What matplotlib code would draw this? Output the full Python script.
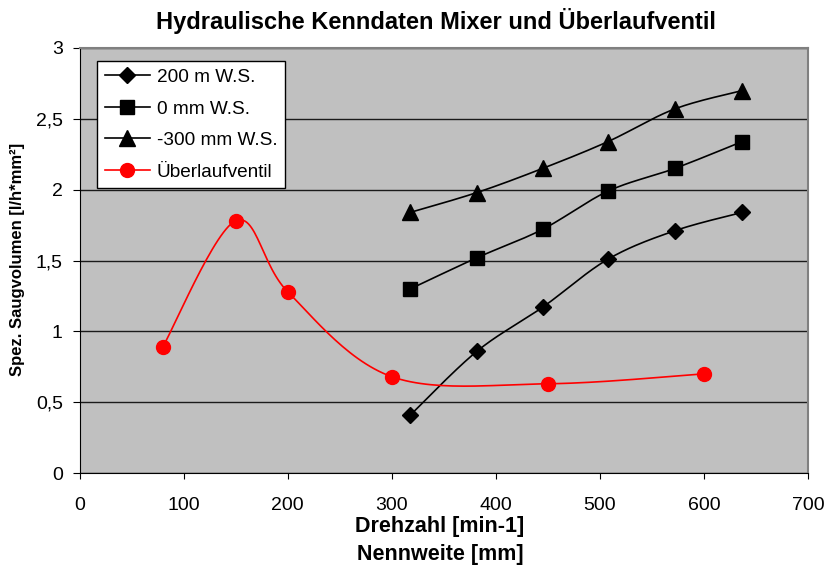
import numpy as np
import matplotlib
matplotlib.use("Agg")
import matplotlib.pyplot as plt
from matplotlib.ticker import FuncFormatter

plt.rcParams['font.family'] = ['Liberation Sans', 'DejaVu Sans']

# Data
x_nw = [318, 382, 445, 508, 572, 637]
y_200m = [0.41, 0.86, 1.17, 1.51, 1.71, 1.84]
y_0mm = [1.30, 1.52, 1.72, 1.99, 2.15, 2.34]
y_m300 = [1.84, 1.98, 2.15, 2.34, 2.57, 2.70]
x_ue = [80, 150, 200, 300, 450, 600]
y_ue = [0.89, 1.78, 1.28, 0.68, 0.63, 0.70]

labels = ["200 m W.S.", "0 mm W.S.", "-300 mm W.S.", "Überlaufventil"]
title = "Hydraulische Kenndaten Mixer und Überlaufventil"
xlabel = "Drehzahl [min-1]\nNennweite [mm]"
ylabel = "Spez. Saugvolumen [l/h*mm²]"


def smooth(xs, ys, n=30):
    """Bezier smoothing similar to Excel's smoothed lines."""
    P = np.column_stack([np.asarray(xs, float), np.asarray(ys, float)])
    out = []
    for i in range(len(P) - 1):
        p0 = P[i - 1] if i > 0 else P[i]
        p1 = P[i]
        p2 = P[i + 1]
        p3 = P[i + 2] if i + 2 < len(P) else P[i + 1]
        c1 = p1 + (p2 - p0) / 6.0
        c2 = p2 - (p3 - p1) / 6.0
        t = np.linspace(0, 1, n)[:, None]
        seg = ((1 - t) ** 3) * p1 + 3 * ((1 - t) ** 2) * t * c1 + 3 * (1 - t) * t ** 2 * c2 + t ** 3 * p2
        out.append(seg if i == 0 else seg[1:])
    s = np.vstack(out)
    return s[:, 0], s[:, 1]


W, H = 833, 567
fig = plt.figure(figsize=(W / 100, H / 100), dpi=100)
L, R, T, B = 79.5, 808, 48, 473
ax = fig.add_axes([L / W, 1 - B / H, (R - L) / W, (B - T) / H])
ax.set_facecolor('#C0C0C0')

series = [
    (x_nw, y_200m, 'D', 'black', 8.5),
    (x_nw, y_0mm, 's', 'black', 9.5),
    (x_nw, y_m300, '^', 'black', 11),
    (x_ue, y_ue, 'o', 'red', 10),
]
handles = []
for (xs, ys, m, c, ms), lab in zip(series, labels):
    sx, sy = smooth(xs, ys)
    ax.plot(sx, sy, color=c, lw=1.2, zorder=3)
    ax.plot(xs, ys, linestyle='none', marker=m, color=c, markersize=ms, zorder=4)
    h, = ax.plot([], [], color=c, lw=1.2, marker=m, markersize=ms, label=lab)
    handles.append(h)

ax.set_xlim(0, 700)
ax.set_ylim(0, 3)
ax.set_xticks(np.arange(0, 701, 100))
ax.set_yticks(np.arange(0, 3.01, 0.5))
ax.yaxis.set_major_formatter(FuncFormatter(lambda v, p: ('%g' % v).replace('.', ',')))
ax.grid(axis='y', color='#1a1a1a', lw=1.0, zorder=1)
ax.set_axisbelow(True)
for s in ['top', 'right']:
    ax.spines[s].set_color('#808080')
    ax.spines[s].set_linewidth(1.5)
for s in ['left', 'bottom']:
    ax.spines[s].set_color('black')
ax.tick_params(axis='x', labelsize=14, length=4, pad=13, color='black')
ax.tick_params(axis='y', labelsize=14, length=5, pad=7, color='black')

fig.text(440 / W, 1 - 540.5 / H, xlabel, ha='center', va='center',
         fontsize=15.5, fontweight='bold', linespacing=1.38)
fig.text(18 / W, 1 - 259 / H, ylabel, ha='center', va='center', rotation=90,
         fontsize=12, fontweight='bold')
fig.text(435.5 / W, 1 - 21 / H, title, ha='center', va='center',
         fontsize=17, fontweight='bold')

leg = ax.legend(handles=handles, loc='upper left',
                bbox_to_anchor=((97 - L) / (R - L), (B - 61) / (B - T)),
                borderaxespad=0, fontsize=13.7, frameon=True, fancybox=False,
                edgecolor='black', framealpha=1, handlelength=2.4,
                borderpad=0.4, labelspacing=0.75, handletextpad=0.35)
leg.get_frame().set_linewidth(1.0)

fig.savefig("out.png", dpi=100)
